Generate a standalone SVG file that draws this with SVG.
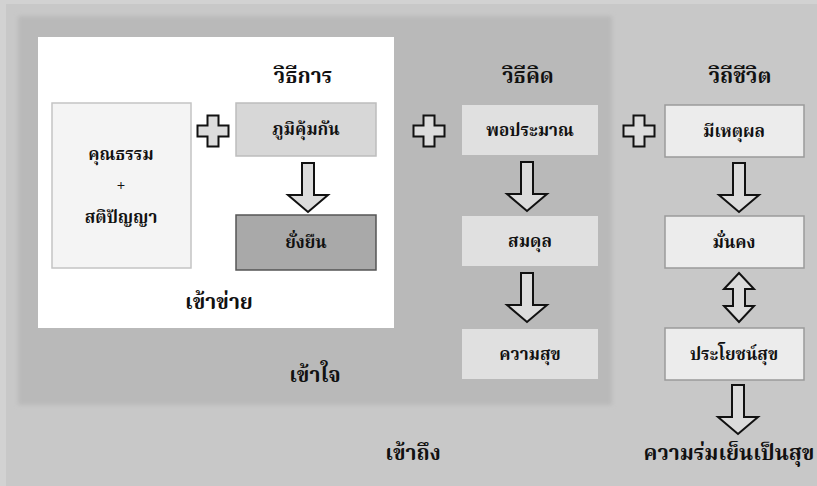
<svg xmlns="http://www.w3.org/2000/svg" width="817" height="486" viewBox="0 0 817 486">
<defs>
<style>
.t{font-family:"Noto Serif Thai","Liberation Serif",serif;fill:#111;text-anchor:middle}
.title{font-size:21px;font-weight:bold}
.lbl{font-size:17px;font-weight:bold}
.zone{font-size:21px;font-weight:bold}
.shape{stroke:#111;stroke-width:2;fill:#dcdcdc;stroke-linejoin:miter}
</style>
<linearGradient id="ag" x1="0" y1="0" x2="1" y2="0">
<stop offset="0" stop-color="#c8c8c8"/>
<stop offset="0.5" stop-color="#f2f2f2"/>
<stop offset="1" stop-color="#c8c8c8"/>
</linearGradient>
<filter id="soft" x="-5%" y="-5%" width="110%" height="110%"><feGaussianBlur stdDeviation="2"/></filter>
<path id="plus" d="M-5.5,-15.5 H5.5 V-5.5 H15.5 V5.5 H5.5 V15.5 H-5.5 V5.5 H-15.5 V-5.5 H-5.5 Z"/>
<path id="down" d="M-6,0 H6 V32 H20 L0,49 L-20,32 H-6 Z"/>
<path id="dbl" d="M0,0 L15,16 H6 V33 H15 L0,49 L-15,33 H-6 V16 H-15 Z"/>
</defs>
<rect x="0" y="0" width="817" height="486" fill="#d2d2d2"/>
<rect x="6" y="4" width="811" height="482" fill="#c8c8c8"/>
<rect x="18" y="16" width="594" height="389" fill="#b9b9b9" filter="url(#soft)"/>
<rect x="38" y="37" width="356" height="291" fill="#ffffff"/>

<g id="connectors">
<use href="#plus" x="213" y="131" class="shape"/>
<use href="#plus" x="429" y="131" class="shape"/>
<use href="#plus" x="639" y="131" class="shape"/>
<use href="#down" x="308" y="163" class="shape" fill="url(#ag)"/>
<use href="#down" x="527" y="162" class="shape" fill="url(#ag)"/>
<use href="#down" x="527" y="273" class="shape" fill="url(#ag)"/>
<use href="#down" x="739" y="163" class="shape" fill="url(#ag)"/>
<use href="#dbl" x="739" y="273" class="shape" fill="url(#ag)"/>
<use href="#down" x="738" y="385" class="shape" fill="url(#ag)"/>
</g>

<g id="node-virtue">
<rect x="52" y="103" width="139" height="165" fill="#f4f4f4" stroke="#c4c4c4" stroke-width="1.5"/>
<text class="t lbl" x="121" y="160">คุณธรรม</text>
<text class="t" x="121" y="191" font-size="16">+</text>
<text class="t lbl" x="121" y="223">สติปัญญา</text>
</g>

<g id="title-method"><text class="t title" x="303" y="83">วิธีการ</text></g>
<g id="node-immunity">
<rect x="236" y="103" width="140" height="53" fill="#d7d7d7" stroke="#bdbdbd" stroke-width="1.5"/>
<text class="t lbl" x="306" y="135">ภูมิคุ้มกัน</text>
</g>
<g id="node-sustain">
<rect x="236" y="215" width="140" height="55" fill="#a9a9a9" stroke="#555" stroke-width="1.5"/>
<text class="t lbl" x="306" y="248">ยั่งยืน</text>
</g>

<g id="title-think"><text class="t title" x="528" y="83">วิธีคิด</text></g>
<g id="node-moderate">
<rect x="462" y="105" width="136" height="50" fill="#e0e0e0"/>
<text class="t lbl" x="530" y="136">พอประมาณ</text>
</g>
<g id="node-balance">
<rect x="462" y="216" width="136" height="50" fill="#e0e0e0"/>
<text class="t lbl" x="530" y="247">สมดุล</text>
</g>
<g id="node-happy">
<rect x="462" y="329" width="136" height="50" fill="#e0e0e0"/>
<text class="t lbl" x="530" y="360">ความสุข</text>
</g>

<g id="title-life"><text class="t title" x="740" y="83">วิถีชีวิต</text></g>
<g id="node-reason">
<rect x="665" y="105" width="139" height="52" fill="#ececec" stroke="#9a9a9a" stroke-width="1.5"/>
<text class="t lbl" x="734" y="137">มีเหตุผล</text>
</g>
<g id="node-stable">
<rect x="665" y="216" width="139" height="52" fill="#ececec" stroke="#9a9a9a" stroke-width="1.5"/>
<text class="t lbl" x="734" y="248">มั่นคง</text>
</g>
<g id="node-benefit">
<rect x="665" y="328" width="139" height="52" fill="#ececec" stroke="#9a9a9a" stroke-width="1.5"/>
<text class="t lbl" x="734" y="360">ประโยชน์สุข</text>
</g>

<g id="zone-labels">
<text class="t zone" x="413" y="460">เข้าถึง</text>
<text class="t zone" x="219" y="309">เข้าข่าย</text>
<text class="t zone" x="315" y="382">เข้าใจ</text>
<text class="t zone" x="729" y="460" font-size="18">ความร่มเย็นเป็นสุข</text>
</g>
</svg>
